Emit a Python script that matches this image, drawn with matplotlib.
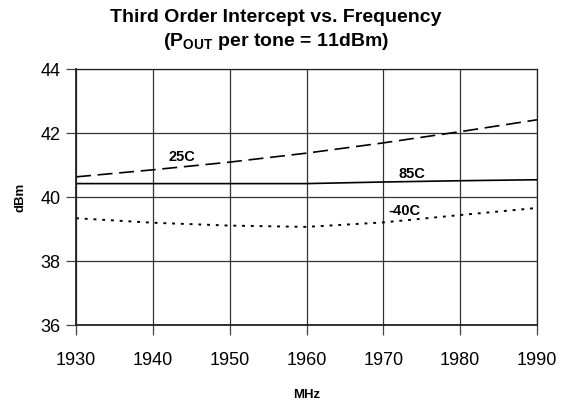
import matplotlib
matplotlib.use("Agg")
import matplotlib.pyplot as plt

freq = [1930, 1940, 1950, 1960, 1970, 1980, 1990]
t25 = [40.62, 40.84, 41.08, 41.36, 41.68, 42.03, 42.40]
t85 = [40.41, 40.41, 40.41, 40.41, 40.46, 40.50, 40.53]
tm40 = [39.33, 39.19, 39.10, 39.06, 39.20, 39.43, 39.65]
xticks = [1930, 1940, 1950, 1960, 1970, 1980, 1990]
yticks = [36, 38, 40, 42, 44]

plt.rcParams['font.family'] = ['Liberation Sans', 'DejaVu Sans']
plt.rcParams['mathtext.fontset'] = 'custom'
plt.rcParams['mathtext.rm'] = 'Liberation Sans'
plt.rcParams['mathtext.bf'] = 'Liberation Sans:bold'

fig = plt.figure(figsize=(5.74, 4.02), dpi=100)
ax = fig.add_axes([76/574, 1-326/402, (537-76)/574, (326-69.5)/402])

ax.plot(freq, t25, color='black', lw=1.2, linestyle=(0, (9, 4)))
ax.plot(freq, t85, color='black', lw=1.2, linestyle='-')
ax.plot(freq, tm40, color='black', lw=1.4, linestyle=(0, (1.5, 3)))

ax.set_xlim(1930, 1990)
ax.set_ylim(36, 44)
ax.set_xticks(xticks)
ax.set_yticks(yticks)
ax.grid(True, color='#333333', lw=0.9)
for s in ax.spines.values():
    s.set_color('#222222')
    s.set_linewidth(0.9)
ax.spines['left'].set_linewidth(1.3)
ax.spines['bottom'].set_linewidth(1.3)
ax.tick_params(axis='both', direction='out', length=7, width=0.9, color='#444444', labelsize=13, pad=4)
ax.tick_params(axis='x', pad=12)

ax.set_xlabel('MHz', fontsize=9.5, fontweight='bold', labelpad=14)
ax.set_ylabel('dBm', fontsize=9.5, fontweight='bold', labelpad=10)

ax.text(1943.8, 41.28, '25C', fontsize=10.5, fontweight='bold', ha='center', va='center')
ax.text(1973.7, 40.75, '85C', fontsize=10.5, fontweight='bold', ha='center', va='center')
ax.text(1972.7, 39.60, '-40C', fontsize=10.5, fontweight='bold', ha='center', va='center')

fig.text(276/574, 1-17/402, 'Third Order Intercept vs. Frequency', fontsize=14, fontweight='bold', ha='center', va='center')
fig.text(276/574, 1-42/402, r'(P$_{\mathbf{OUT}}$ per tone = 11dBm)', fontsize=14, fontweight='bold', ha='center', va='center')

fig.savefig('out.png', dpi=100)
